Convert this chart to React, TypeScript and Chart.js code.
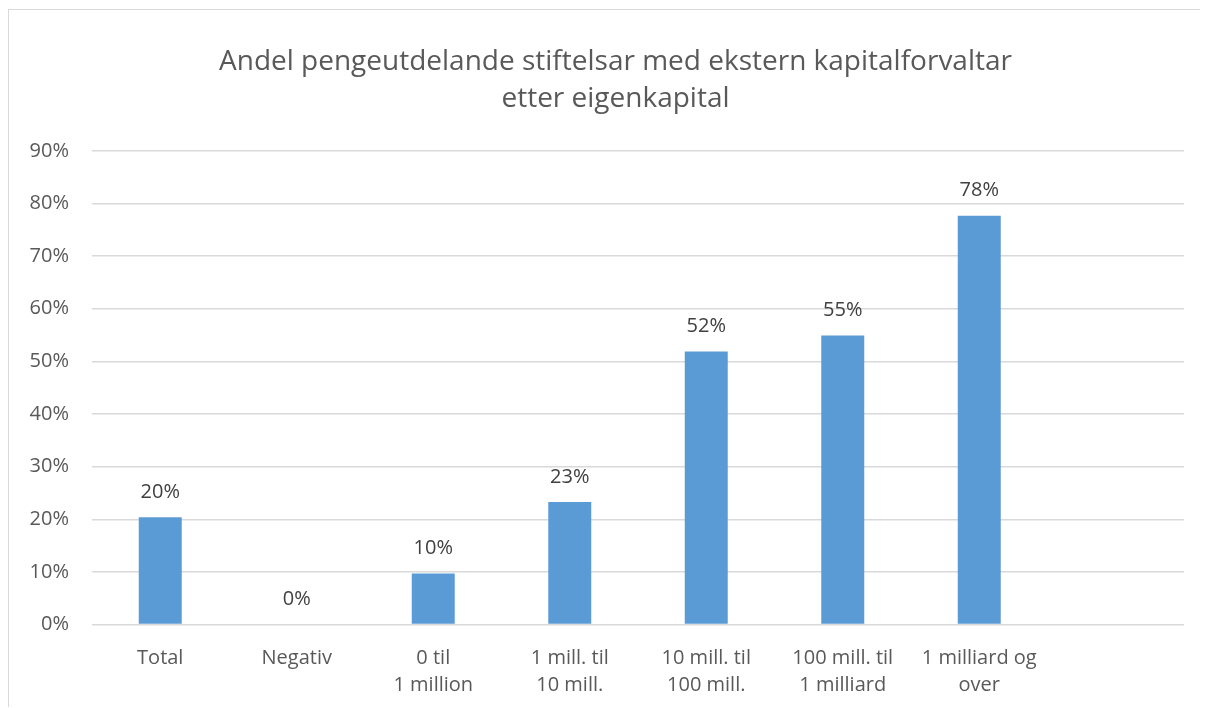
import React, { useEffect, useRef } from "react";
import { Chart, registerables } from "chart.js";

Chart.register(...registerables);

const titleLines = ["Andel pengeutdelande stiftelsar med ekstern kapitalforvaltar", "etter eigenkapital"];
const categories: (string | string[])[] = [
  "Total",
  "Negativ",
  ["0 til", "1 million"],
  ["1 mill. til", "10 mill."],
  ["10 mill. til", "100 mill."],
  ["100 mill. til", "1 milliard"],
  ["1 milliard og", "over"],
  "",
];
const shares: (number | null)[] = [20.4, 0, 9.7, 23.3, 51.9, 54.9, 77.7, null];
const yTicks = [0, 10, 20, 30, 40, 50, 60, 70, 80, 90];

const FONT = "'Open Sans', 'Liberation Sans', sans-serif";
const TEXT = "#595959";

const valueLabels = {
  id: "valueLabels",
  afterDatasetsDraw(chart: any) {
    const ctx = chart.ctx;
    const meta = chart.getDatasetMeta(0);
    ctx.save();
    ctx.font = `20px ${FONT}`;
    ctx.fillStyle = "#404040";
    ctx.textAlign = "center";
    ctx.textBaseline = "middle";
    meta.data.forEach((bar: any, i: number) => {
      const v = shares[i];
      if (v === null || v === undefined) return;
      ctx.fillText(`${Math.round(v)}%`, bar.x, bar.y - 25);
    });
    ctx.restore();
  },
};

const titleShift = {
  id: "titleShift",
  afterLayout(chart: any) {
    const t = chart.titleBlock;
    if (t) {
      t.left += 19;
      t.right += 19;
    }
  },
};

export default function App() {
  const ref = useRef<HTMLCanvasElement>(null);
  useEffect(() => {
    if (!ref.current) return;
    const chart = new Chart(ref.current, {
      type: "bar",
      data: {
        labels: categories,
        datasets: [
          {
            data: shares,
            backgroundColor: "#5b9bd5",
            borderWidth: 0,
            categoryPercentage: 1,
            barPercentage: 0.315,
          },
        ],
      },
      options: {
        animation: false,
        responsive: false,
        layout: { padding: { left: 0, right: 23, top: 0, bottom: 9 } },
        plugins: {
          legend: { display: false },
          tooltip: { enabled: false },
          title: {
            display: true,
            text: titleLines,
            color: TEXT,
            font: { family: FONT, size: 28, weight: "normal", lineHeight: 1.32 },
            padding: { top: 34, bottom: 33 },
          },
        },
        scales: {
          x: {
            grid: { display: false, drawTicks: false },
            border: { display: false },
            afterFit(scale: any) {
              scale.height = 73.5;
            },
            ticks: {
              color: TEXT,
              font: { family: FONT, size: 20, lineHeight: 1.35 },
              padding: 20,
              maxRotation: 0,
              autoSkip: false,
            },
          },
          y: {
            min: 0,
            max: 90,
            afterBuildTicks(scale: any) {
              scale.ticks = yTicks.map((v) => ({ value: v }));
            },
            afterFit(scale: any) {
              scale.width = 83;
            },
            grid: { color: "#d9d9d9", lineWidth: 1.5, drawTicks: false },
            border: { display: false },
            ticks: {
              color: TEXT,
              font: { family: FONT, size: 20 },
              padding: 23,
              callback: (v: any) => `${v}%`,
            },
          },
        },
      },
      plugins: [valueLabels, titleShift],
    });
    return () => chart.destroy();
  }, []);
  return (
    <div
      style={{
        width: 1199,
        height: 698,
        borderTop: "1.5px solid #d9d9d9",
        borderLeft: "1.5px solid #d9d9d9",
        marginTop: 1,
        boxSizing: "border-box",
        background: "#fff",
        overflow: "hidden",
      }}
    >
      <canvas ref={ref} width={1198} height={697} style={{ display: "block" }} />
    </div>
  );
}
